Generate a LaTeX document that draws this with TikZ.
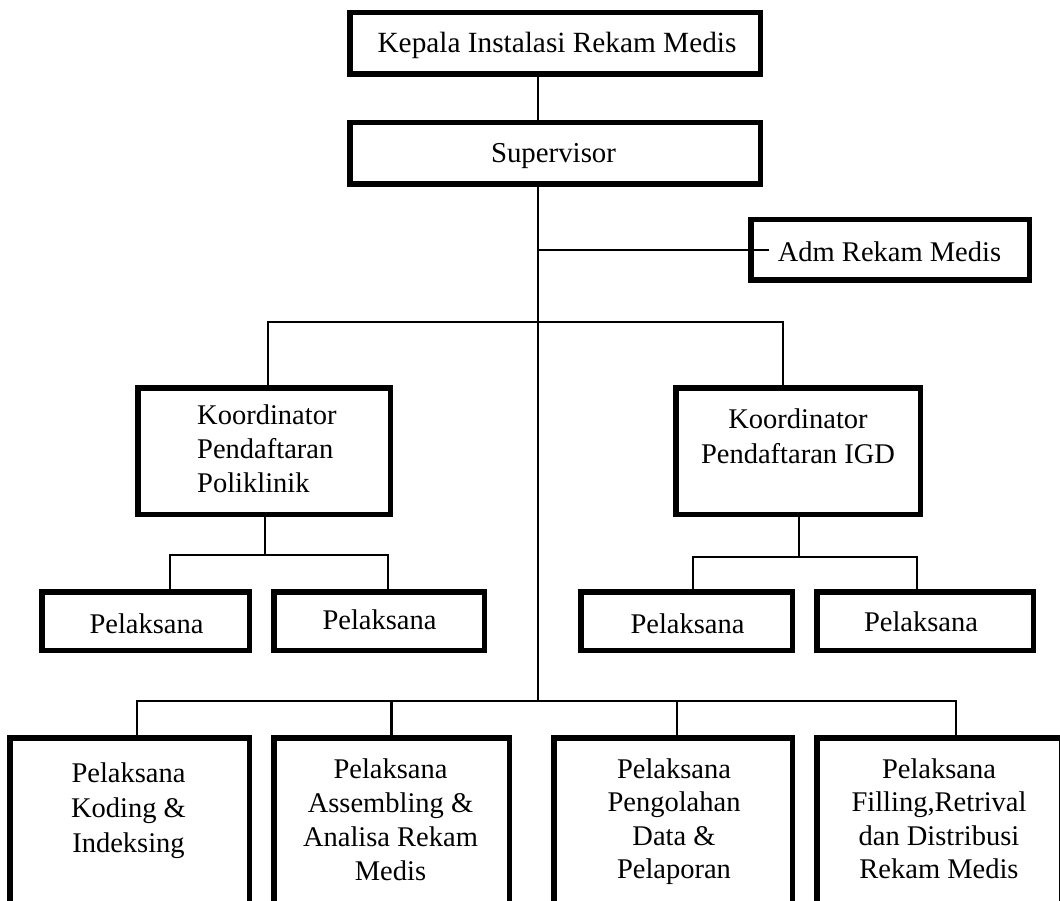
\documentclass[tikz,border=0pt]{standalone}
\usepackage{fontspec}
\setmainfont{Liberation Serif}
\begin{document}
\begin{tikzpicture}[x=1pt,y=-1pt,
  box/.style={draw,line width=5.5pt,inner sep=0pt,rectangle},
  conn/.style={line width=2.2pt,line cap=rect},
  txt/.style={inner sep=0pt,font=\fontsize{28.5}{34}\selectfont,text width=450pt,align=flush center,anchor=base},
  txtl/.style={inner sep=0pt,font=\fontsize{28.5}{34}\selectfont,text width=220pt,align=flush left,anchor=base west}]
\useasboundingbox (0,0) rectangle (1060,901);
\clip (0,0) rectangle (1060,901);
% boxes: center = ((L+R)/2,(T+B)/2), size = outer - line width
\node[box,minimum width=410.5pt,minimum height=61.5pt] (top) at (555,43.5) {};
\node[box,minimum width=410.5pt,minimum height=61.5pt] (sup) at (555,153.5) {};
\node[box,minimum width=278.5pt,minimum height=60.5pt] (adm) at (890,250) {};
\node[box,minimum width=252.5pt,minimum height=126.5pt] (kp) at (264,451) {};
\node[box,minimum width=244.5pt,minimum height=126.5pt] (ki) at (798,451) {};
\node[box,minimum width=207.5pt,minimum height=58.5pt] (p1) at (145.5,621) {};
\node[box,minimum width=210.5pt,minimum height=58.5pt] (p2) at (379,621) {};
\node[box,minimum width=211.5pt,minimum height=58.5pt] (p3) at (686.5,621) {};
\node[box,minimum width=216.5pt,minimum height=58.5pt] (p4) at (925,621) {};
\node[box,minimum width=239.5pt,minimum height=234.5pt] (b1) at (129.5,855) {};
\node[box,minimum width=235.5pt,minimum height=234.5pt] (b2) at (391.5,855) {};
\node[box,minimum width=238.5pt,minimum height=234.5pt] (b3) at (673,855) {};
\node[box,minimum width=244.5pt,minimum height=234.5pt] (b4) at (939,855) {};
% texts
\node[txt,font=\fontsize{29.3}{34}\selectfont] (ttop) at (557,53) {Kepala Instalasi Rekam Medis};
\node[txt,font=\fontsize{28.85}{34}\selectfont] (tsup) at (553.5,163) {Supervisor};
\node[txt] (tadm) at (889.5,262) {Adm Rekam Medis};
\node[txtl] (tkp) at (197,424) {Koordinator\\Pendaftaran\\Poliklinik};
\node[txt,font=\fontsize{28.5}{35}\selectfont] (tki) at (798,428) {Koordinator\\Pendaftaran IGD};
\node[txt] (tp1) at (146.5,633) {Pelaksana};
\node[txt] (tp2) at (379.5,629) {Pelaksana};
\node[txt] (tp3) at (687.5,633) {Pelaksana};
\node[txt] (tp4) at (921,631) {Pelaksana};
\node[txt,font=\fontsize{28.5}{35}\selectfont] (tb1) at (128.5,782) {Pelaksana\\Koding \&\\Indeksing};
\node[txt] (tb2) at (390.5,778) {Pelaksana\\Assembling \&\\Analisa Rekam\\Medis};
\node[txt,font=\fontsize{28.5}{33.5}\selectfont] (tb3) at (674,778) {Pelaksana\\Pengolahan\\Data \&\\Pelaporan};
\node[txt,font=\fontsize{28.5}{33.5}\selectfont] (tb4) at (939,778) {Pelaksana\\Filling,Retrival\\dan Distribusi\\Rekam Medis};
% connectors
\coordinate (mx) at (538,0);
\coordinate (kbus) at (0,322);
\coordinate (bbus) at (0,701);
\coordinate (pbusl) at (0,555);
\coordinate (pbusr) at (0,557);
\draw[conn] (top.south -| mx) -- (sup.north -| mx);
\draw[conn] (sup.south -| mx) -- (bbus -| mx);
\draw[conn] (adm.west -| mx) -- ([xshift=20pt]adm.west);
\draw[conn] ([xshift=4pt]kp.north) |- (kbus -| mx) -| ([xshift=-15pt]ki.north);
\draw[conn] ([xshift=1pt]kp.south) -- ([xshift=1pt]kp.south |- pbusl);
\draw[conn] ([xshift=24.5pt]p1.north) |- ([xshift=9pt]p2.north |- pbusl) -- ([xshift=9pt]p2.north);
\draw[conn] ([xshift=1pt]ki.south) -- ([xshift=1pt]ki.south |- pbusr);
\draw[conn] ([xshift=6.5pt]p3.north) |- ([xshift=-8pt]p4.north |- pbusr) -- ([xshift=-8pt]p4.north);
\draw[conn] ([xshift=7.5pt]b1.north) |- ([xshift=17pt]b4.north |- bbus) -- ([xshift=17pt]b4.north);
\draw[conn] (b2.north) -- (b2.north |- bbus);
\draw[conn] ([xshift=4pt]b3.north) -- ([xshift=4pt]b3.north |- bbus);
\end{tikzpicture}
\end{document}
